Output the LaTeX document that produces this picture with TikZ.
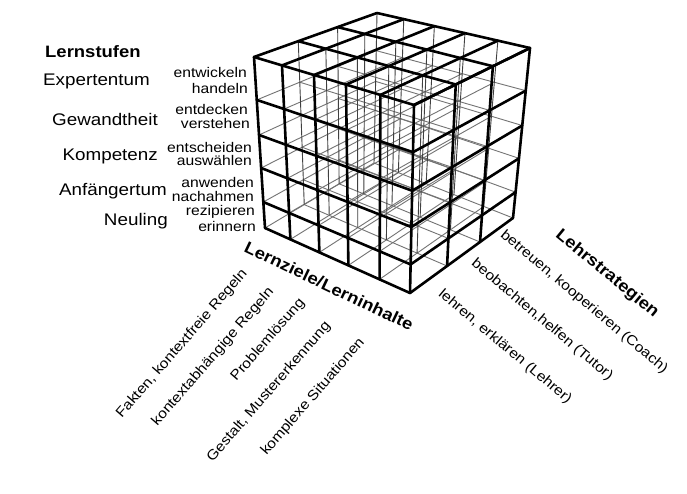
\documentclass[tikz,border=0pt]{standalone}
\usepackage{fontspec}
\setmainfont{Liberation Sans}
\newfontfamily\lab[FakeStretch=1.12]{Liberation Sans}
% point of the cube: #1 name, #2 u (left->front), #3 v (front->right), #4 w (bottom->top)
\newcommand\cpt[4]{%
  \pgfmathsetmacro\cx{(1-#4)*((1-#2)*(1-#3)*265+#2*(1-#3)*410+#2*#3*513+(1-#2)*#3*374)+#4*((1-#2)*(1-#3)*254+#2*(1-#3)*414+#2*#3*530+(1-#2)*#3*377)}%
  \pgfmathsetmacro\cy{(1-#4)*((1-#2)*(1-#3)*228+#2*(1-#3)*293+#2*#3*218+(1-#2)*#3*163)+#4*((1-#2)*(1-#3)*57+#2*(1-#3)*105+#2*#3*48+(1-#2)*#3*13)}%
  \coordinate (#1) at (\cx,\cy);%
}
\begin{document}
\begin{tikzpicture}[x=1pt,y=-1pt,
  vis/.style={line width=2.6pt, line cap=round, line join=round},
  hid/.style={line width=0.9pt, black!55},
  hidv/.style={line width=0.9pt, black!75},
  lvl/.style={font=\lab\fontsize{16.8}{18}\selectfont, inner sep=0pt},
  verb/.style={font=\lab\fontsize{14}{16}\selectfont, inner sep=0pt},
  head/.style={font=\lab\bfseries\fontsize{16.5}{18}\selectfont, inner sep=0pt},
]
\useasboundingbox[fill=white] (0,0) rectangle (687,493);
% hidden lines
\foreach \v in {.36,.68,1}{\foreach \w in {0,.152,.351,.544,.749}{%
  \cpt{a}{0}{\v}{\w}\cpt{b}{1}{\v}{\w}\draw[hid] (a)--(b);}}
\foreach \u in {0,.175,.375,.575,.79}{\foreach \w in {0,.152,.351,.544,.749}{%
  \cpt{a}{\u}{0}{\w}\cpt{b}{\u}{1}{\w}\draw[hid] (a)--(b);}}
\foreach \u in {0,.175,.375,.575,.79}{\foreach \v in {.36,.68,1}{%
  \cpt{a}{\u}{\v}{0}\cpt{b}{\u}{\v}{1}\draw[hidv] (a)--(b);}}
% visible lines
\foreach \w in {0,.152,.351,.544,.749,1}{%
  \cpt{a}{0}{0}{\w}\cpt{b}{1}{0}{\w}\draw[vis] (a)--(b);
  \cpt{a}{1}{0}{\w}\cpt{b}{1}{1}{\w}\draw[vis] (a)--(b);}
\foreach \v in {.36,.68,1}{%
  \cpt{a}{0}{\v}{1}\cpt{b}{1}{\v}{1}\draw[vis] (a)--(b);
  \cpt{a}{1}{\v}{0}\cpt{b}{1}{\v}{1}\draw[vis] (a)--(b);}
\foreach \u in {0,.175,.375,.575,.79,1}{%
  \cpt{a}{\u}{0}{1}\cpt{b}{\u}{1}{1}\draw[vis] (a)--(b);
  \cpt{a}{\u}{0}{0}\cpt{b}{\u}{0}{1}\draw[vis] (a)--(b);}
% left labels
\node[head, anchor=west] (ls) at (45,52) {Lernstufen};
\node[lvl, anchor=east] (l5) at (150,81.5) {Expertentum};
\node[lvl, anchor=east] (l4) at (158,119.5) {Gewandtheit};
\node[lvl, anchor=east] (l3) at (158,156) {Kompetenz};
\node[lvl, anchor=east] (l2) at (167,191.5) {Anfängertum};
\node[lvl, anchor=east] (l1) at (168,221) {Neuling};
\node[verb, anchor=east] (v5a) at (247,72.5) {entwickeln};
\node[verb, anchor=east] (v5b) at (248,88) {handeln};
\node[verb, anchor=east] (v4a) at (248,109) {entdecken};
\node[verb, anchor=east] (v4b) at (250,123) {verstehen};
\node[verb, anchor=east] (v3a) at (252,147) {entscheiden};
\node[verb, anchor=east] (v3b) at (252,160) {auswählen};
\node[verb, anchor=east] (v2a) at (254,182) {anwenden};
\node[verb, anchor=east] (v2b) at (254,196) {nachahmen};
\node[verb, anchor=east] (v1a) at (255,212) {rezipieren};
\node[verb, anchor=east] (v1b) at (256,226) {erinnern};
% bottom labels
\node[head, rotate=-25.5] (lz) at (329,286) {Lernziele/Lerninhalte};
\node[verb, rotate=49] (z1) at (182,344) {Fakten, kontextfreie Regeln};
\node[verb, rotate=49] (z2) at (213,357) {kontextabhängige Regeln};
\node[verb, rotate=49] (z3) at (268,340) {Problemlösung};
\node[verb, rotate=49] (z4) at (269,392) {Gestalt, Mustererkennung};
\node[verb, rotate=49] (z5) at (313,397) {komplexe Situationen};
% right labels
\node[head, rotate=-39.5] (lh) at (607,274) {Lehrstrategien};
\node[verb, rotate=-40] (s3) at (584,302) {betreuen, kooperieren (Coach)};
\node[verb, rotate=-40] (s2) at (542,320) {beobachten,helfen (Tutor)};
\node[verb, rotate=-40] (s1) at (505,347) {lehren, erklären (Lehrer)};
\end{tikzpicture}
\end{document}
